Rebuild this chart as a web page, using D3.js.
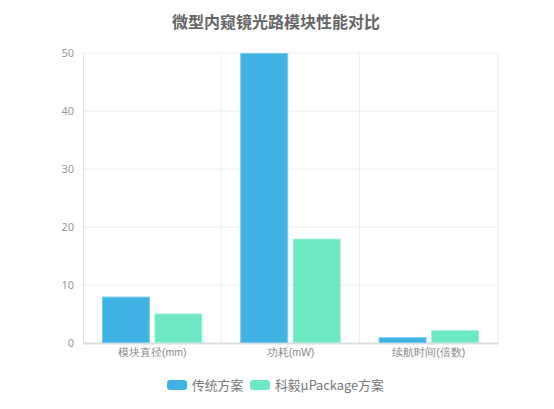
<!DOCTYPE html>
<html><head><meta charset="utf-8">
<script src="https://cdn.jsdelivr.net/npm/d3@7"></script>
<style>body{margin:0;background:#fff;}svg{display:block;font-family:"Microsoft YaHei","Noto Sans CJK SC",sans-serif;}</style>
</head><body>
<svg id="c" width="554" height="409"></svg>
<script>
const title = "微型内窥镜光路模块性能对比";
const categories = ["模块直径(mm)", "功耗(mW)", "续航时间(倍数)"];
const seriesNames = ["传统方案", "科毅μPackage方案"];
const traditional = [8, 50, 1];
const upackage = [5.1, 18, 2.2];
const yTicks = [0, 10, 20, 30, 40, 50];
const colors = ["#41b2e4", "#6ee8c4"];
const strokes = ["#74c9ee", "#98f0d6"];

const svg = d3.select("#c");
const m = {l: 83, r: 56, t: 53, b: 66};
const W = 554, H = 409;
const x = d3.scaleBand().domain(categories).range([m.l, W - m.r]);
const y = d3.scaleLinear().domain([0, 50]).range([H - m.b, m.t]);
const series = [traditional, upackage];

svg.append("text").attr("x", 276).attr("y", 28).attr("text-anchor", "middle")
  .attr("font-size", 16).attr("font-weight", "bold").attr("fill", "#666").text(title);

// horizontal grid
svg.append("g").selectAll("line").data(yTicks.filter(d => d > 0)).join("line")
  .attr("x1", m.l).attr("x2", W - m.r).attr("y1", d => y(d)).attr("y2", d => y(d))
  .attr("stroke", "#eeeeee").attr("stroke-width", 1);
// vertical grid
const bounds = categories.map(c => x(c)).concat([x.range()[1]]);
svg.append("g").selectAll("line").data(bounds.slice(1)).join("line")
  .attr("x1", d => d).attr("x2", d => d).attr("y1", m.t).attr("y2", H - m.b)
  .attr("stroke", "#eeeeee");

// y axis
const ya = svg.append("g").attr("transform", `translate(${m.l},0)`)
  .call(d3.axisLeft(y).tickValues(yTicks).tickSize(0).tickPadding(9));
ya.select(".domain").attr("stroke", "#e0e0e0");
ya.selectAll("text").attr("fill", "#999").attr("font-size", 11).attr("font-family", "Noto Sans, sans-serif");

// x axis
const xa = svg.append("g").attr("transform", `translate(0,${H - m.b})`)
  .call(d3.axisBottom(x).tickSize(0).tickPadding(6));
xa.select(".domain").attr("stroke", "#dddddd").attr("stroke-width", 2);
xa.selectAll("text").attr("fill", "#888").attr("font-size", 10.5);

// bars
const bw = 48, gap = 4.5;
const inner = d3.scaleBand().domain([0, 1]).range([0, bw * 2 + gap]).paddingInner(gap / (bw + gap));
const off = (x.bandwidth() - (bw * 2 + gap)) / 2;
series.forEach((vals, si) => {
  svg.append("g").selectAll("rect").data(vals).join("rect")
    .attr("x", (d, i) => x(categories[i]) + off + inner(si) + 0.5)
    .attr("width", inner.bandwidth() - 1)
    .attr("y", d => y(d) + 0.5)
    .attr("height", d => y(0) - y(d) - 1)
    .attr("fill", colors[si]).attr("stroke", strokes[si]).attr("stroke-width", 1);
});

// legend
const lg = svg.append("g");
const legX = [167, 250];
seriesNames.forEach((n, i) => {
  lg.append("rect").attr("x", legX[i]).attr("y", 380).attr("width", 20).attr("height", 10)
    .attr("rx", 3).attr("fill", colors[i]);
  lg.append("text").attr("x", legX[i] + 25).attr("y", 390).attr("font-size", 12.8)
    .attr("fill", "#777").text(n);
});
</script>
</body></html>
